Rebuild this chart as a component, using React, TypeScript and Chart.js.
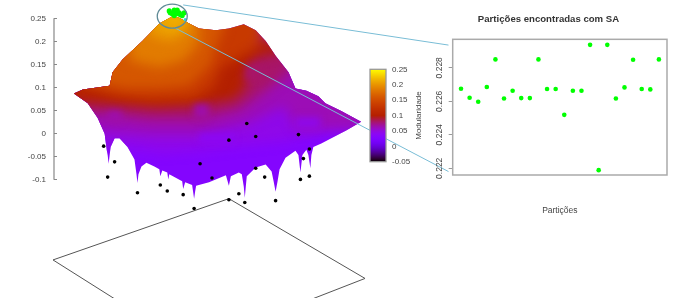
import React, { useEffect, useRef } from "react";
import { Chart, registerables } from "chart.js";

// ---- main 3D view: x = projected view position, y = modularity ----
const axisTicks = [-0.1, -0.05, 0, 0.05, 0.1, 0.15, 0.2, 0.25];
const silhouetteX = [74,83,110,113,123,143,160,173,180,190,200,217,230,245,257,267,277,290,297,308,320,327,343,363,348,323,315,313,312,310,308,304,302,300,297,287,281,279,277,275,273,267,257,248,247,246,245,243,240,232,230,227,210,197,196,195,194,193,186,184,183,170,169,168,163,161,160,155,147,142,139,138,137,135,128,120,115,111,110,109,108,107,105,98,88];
const silhouetteY = [.087,.0955,.104,.133,.161,.201,.239,.254,.251,.239,.228,.224,.228,.237,.224,.201,.169,.133,.098,.093,.081,.066,.049,.026,.007,-.021,-.029,-.046,-.075,-.046,-.035,-.046,-.084,-.046,-.037,-.052,-.077,-.103,-.126,-.103,-.082,-.067,-.073,-.092,-.115,-.139,-.115,-.088,-.084,-.092,-.113,-.09,-.105,-.113,-.126,-.141,-.126,-.111,-.105,-.12,-.103,-.088,-.099,-.084,-.08,-.092,-.077,-.071,-.063,-.071,-.088,-.107,-.088,-.056,-.029,-.01,-.01,-.029,-.046,-.065,-.046,-.035,0,.034,.066];
const surfaceBaseLevel = 0.03;

const bandLevels = [0.045, 0.062, 0.08, 0.1, 0.132, 0.16, 0.185, 0.205, 0.215, 0.065, 0.065, 0.045, 0.08, 0.04];
const bandXs = [
  [60,90,130,165,200,240,290,330,380,380,300,60],
  [60,100,150,200,250,285,300,340,380,380,300,60],
  [60,100,150,200,240,265,285,300,300,60],
  [60,110,160,200,235,248,245,255,280,295,60],
  [80,115,150,195,215,222,240,258,265,260,80],
  [90,125,160,190,212,218,225,225,90],
  [130,160,185,200,200,130],
  [150,172,188,192,150],
  [165,178,186,186,165],
  [108,122,122,108],
  [195,210,210,195],
  [297,322,322,297],
  [248,262,262,248],
  [200,235,235,200],
];
const bandYs = [
  [-.035,-.031,-.031,-.04,-.035,-.025,-.014,.007,.017,.133,.154,.133],
  [.005,.005,-.002,-.002,.024,.06,.007,.011,.011,.133,.133,.133],
  [.043,.045,.032,.032,.053,.091,.123,.144,.218,.218],
  [.07,.064,.057,.062,.074,.102,.129,.165,.176,.197,.218],
  [.102,.081,.072,.074,.102,.144,.165,.186,.218,.27,.27],
  [.115,.098,.098,.104,.15,.197,.228,.27,.27],
  [.159,.144,.159,.197,.27,.27],
  [.214,.201,.222,.27,.27],
  [.235,.23,.243,.27,.27],
  [.049,.049,.024,.024],
  [.064,.064,.034,.034],
  [.036,.036,.011,.011],
  [.15,.15,.117,.117],
  [0,0,-.021,-.021],
];

const localMinX = [104,115,108,138,161,168,184,195,201,213,230,230,240,246,257,257,266,277,300,302,305,311,311,248];
const localMinY = [-.027,-.061,-.094,-.128,-.111,-.124,-.132,-.162,-.065,-.096,-.014,-.143,-.13,-.149,-.075,-.006,-.094,-.145,-.002,-.099,-.054,-.033,-.092,.022];
const peakX = [170,175,173,177,175,180,183,185,178,171,181];
const peakY = [.266,.268,.26,.26,.256,.262,.256,.262,.268,.262,.258];
const peakTraceX = [186];
const peakTraceY = [.247];
const groundX = [53,230,367,191,53];
const groundY = [-.2735,-.1407,-.3136,-.461,-.2735];
const connectorUpperX = [184,451];
const connectorUpperY = [.279,.192];
const connectorLowerX = [175,451];
const connectorLowerY = [.23,-.082];

// ---- inset ----
const insetTitle = "Partições encontradas com SA";
const insetXLabel = "Partições";
const insetTicks = [0.222, 0.224, 0.226, 0.228];
const partitions = Array.from({ length: 24 }, (_, i) => i + 1);
const partitionModularity = [.22675,.22621,.22597,.22685,.2285,.22617,.22663,.22619,.22619,.2285,.22673,.22673,.22519,.22663,.22663,.22937,.22189,.22937,.22617,.22683,.22848,.22673,.22671,.2285];

// ---- colour bar ----
const colorMin = -0.05;
const colorMax = 0.25;
const colorTitle = "Modularidade";

const FONT = "'Liberation Sans', Arial, sans-serif";
const TEXT = "#444";

function palette(v: number) {
  const g = Math.min(1, Math.max(0, (v - colorMin) / (colorMax - colorMin)));
  const r = Math.sqrt(g);
  const gr = g * g * g;
  const b = Math.max(0, Math.sin(2 * Math.PI * g));
  return `rgb(${Math.round(r * 255)},${Math.round(gr * 255)},${Math.round(b * 255)})`;
}

const pts = (xs: number[], ys: number[]) => xs.map((x, i) => ({ x, y: ys[i] }));

// Registered before the built-ins so it wraps the Filler's painting of blended bands.
const bandBlend = {
  id: "bandBlend",
  beforeDatasetDraw(chart: any, args: any) {
    const ds = chart.data.datasets[args.index];
    if (!ds.blended) return;
    const outline = chart.getDatasetMeta(chart.data.datasets.findIndex((d: any) => d.isSurface)).data;
    const ctx = chart.ctx;
    ctx.save();
    ctx.beginPath();
    outline.forEach((p: any, i: number) => (i ? ctx.lineTo(p.x, p.y) : ctx.moveTo(p.x, p.y)));
    ctx.closePath();
    ctx.clip();
    ctx.filter = `blur(${ds.blended}px)`;
  },
  afterDatasetDraw(chart: any, args: any) {
    if (chart.data.datasets[args.index].blended) chart.ctx.restore();
  },
};
Chart.register(bandBlend);
Chart.register(...registerables);

const baseOpts = {
  responsive: false,
  animation: false,
  events: [],
  devicePixelRatio: 1,
};
const noTickMargin = (s: any) => { s.paddingTop = 0; s.paddingBottom = 0; };

export default function App() {
  const mainRef = useRef<HTMLCanvasElement>(null);
  const insetRef = useRef<HTMLCanvasElement>(null);
  const barRef = useRef<HTMLCanvasElement>(null);

  useEffect(() => {
    const line = (data: any[], color: string, width: number, order: number) => ({
      data, showLine: true, borderColor: color, borderWidth: width, pointRadius: 0, clip: false, order, tension: 0,
    });
    const main = new Chart(mainRef.current!, {
      type: "scatter",
      data: {
        datasets: [
          { ...line(pts(groundX, groundY), "#555", 1, 50) },
          {
            ...line(pts(silhouetteX, silhouetteY), "transparent", 0, 40),
            isSurface: true,
            fill: "shape",
            backgroundColor: palette(surfaceBaseLevel),
          },
          ...bandLevels.map((lvl, i) => ({
            ...line(pts(bandXs[i], bandYs[i]), "transparent", 0, 30 - i),
            blended: i < 9 ? 6 : 3.5,
            fill: "shape",
            backgroundColor: palette(lvl),
          })),
          { data: pts(localMinX, localMinY), pointRadius: 1.8, pointBackgroundColor: "#000", pointBorderWidth: 0, clip: false, order: 5 },
          { data: pts(peakTraceX, peakTraceY), pointRadius: 1.6, pointBackgroundColor: "#2fd8d8", pointBorderWidth: 0, clip: false, order: 4.5 },
          { data: pts(peakX, peakY), pointRadius: 2.6, pointBackgroundColor: "#00ff00", pointBorderWidth: 0, clip: false, order: 4 },
          { ...line(pts(connectorUpperX, connectorUpperY), "#79bdd6", 1, 3) },
          { ...line(pts(connectorLowerX, connectorLowerY), "#79bdd6", 1, 3) },
          { ...line([{ x: 54, y: axisTicks[0] }, { x: 54, y: axisTicks[axisTicks.length - 1] }], "#888", 1.2, 2) },
        ],
      },
      options: {
        ...baseOpts,
        layout: { padding: 0 },
        plugins: { legend: { display: false }, tooltip: { enabled: false } },
        scales: {
          x: { type: "linear", display: false, min: 54, max: 688 },
          y: {
            type: "linear",
            min: -0.3473,
            max: 0.281,
            border: { display: false },
            grid: { drawOnChartArea: false, color: "#888", tickLength: -3, lineWidth: 1 },
            afterBuildTicks: (s: any) => { s.ticks = axisTicks.map((value) => ({ value })); },
            afterFit: (s: any) => { s.width = 54; noTickMargin(s); },
            ticks: {
              autoSkip: false, padding: 11, color: TEXT, font: { family: FONT, size: 8 },
              callback: (v: any) => String(+(+v).toFixed(2)),
            },
          },
        },
      },
      plugins: [{
        id: "peakRing",
        afterDatasetsDraw(c: any) {
          const ctx = c.ctx;
          const x = c.scales.x.getPixelForValue(173);
          const y = c.scales.y.getPixelForValue(0.2547);
          ctx.save();
          ctx.strokeStyle = "#5f8a96";
          ctx.lineWidth = 1.3;
          ctx.beginPath();
          ctx.ellipse(x, y, 15, 12, 0, 0, Math.PI * 2);
          ctx.stroke();
          ctx.restore();
        },
      }],
    } as any);

    const inset = new Chart(insetRef.current!, {
      type: "scatter",
      data: {
        datasets: [{
          data: pts(partitions, partitionModularity),
          pointRadius: 2.3, pointBackgroundColor: "#00ff00", pointBorderWidth: 0,
        }],
      },
      options: {
        ...baseOpts,
        layout: { padding: { right: 46 } },
        plugins: {
          legend: { display: false }, tooltip: { enabled: false },
          title: {
            display: true, text: insetTitle, color: "#333",
            font: { family: FONT, size: 9.6, weight: "bold" },
            padding: { top: 14, bottom: 13.8 },
          },
        },
        scales: {
          x: {
            type: "linear", min: 0.035, max: 24.94,
            ticks: { display: false },
            grid: { display: false },
            border: { display: false },
            afterFit: (s: any) => { s.height = 41; },
            title: { display: true, text: insetXLabel, color: TEXT, font: { family: FONT, size: 8.5 }, padding: 0 },
          },
          y: {
            type: "linear", min: 0.2216, max: 0.2297,
            border: { display: false },
            grid: { drawOnChartArea: false, color: "#999", tickLength: 4 },
            afterBuildTicks: (s: any) => { s.ticks = insetTicks.map((value) => ({ value })); },
            afterFit: (s: any) => { s.width = 22.7; noTickMargin(s); },
            ticks: {
              autoSkip: false, minRotation: 90, maxRotation: 90, crossAlign: "center", padding: -2,
              color: TEXT, font: { family: FONT, size: 8.5 },
              callback: (v: any) => (+v).toFixed(3),
            },
          },
        },
      },
      plugins: [{
        id: "frame",
        afterDatasetsDraw(c: any) {
          const { left, top, width, height } = c.chartArea;
          c.ctx.save();
          c.ctx.strokeStyle = "#aaa";
          c.ctx.lineWidth = 1.5;
          c.ctx.strokeRect(left, top, width, height);
          c.ctx.restore();
        },
      }],
    } as any);

    const bar = new Chart(barRef.current!, {
      type: "bar",
      data: {
        labels: [colorTitle],
        datasets: [{
          data: [[colorMin, colorMax]],
          barPercentage: 1,
          categoryPercentage: 1,
          backgroundColor: (ctx: any) => {
            const { chartArea, scales } = ctx.chart;
            if (!chartArea) return "#000";
            const g = ctx.chart.ctx.createLinearGradient(0, scales.y.getPixelForValue(colorMin), 0, scales.y.getPixelForValue(colorMax));
            for (let i = 0; i <= 40; i++) g.addColorStop(i / 40, palette(colorMin + (i / 40) * (colorMax - colorMin)));
            return g;
          },
        }],
      },
      options: {
        ...baseOpts,
        layout: { padding: { top: 14.3, bottom: 13.3 } },
        plugins: { legend: { display: false }, tooltip: { enabled: false } },
        scales: {
          x: { display: false },
          y: {
            position: "right", min: colorMin, max: colorMax,
            border: { display: false },
            grid: { drawOnChartArea: false, color: "#222", tickLength: -3 },
            afterFit: (s: any) => { s.width = 44; noTickMargin(s); },
            ticks: {
              stepSize: 0.05, padding: 9, color: TEXT, font: { family: FONT, size: 8 },
              callback: (v: any) => String(+(+v).toFixed(2)),
            },
          },
          yLeft: {
            position: "left", min: colorMin, max: colorMax,
            border: { display: false },
            grid: { drawOnChartArea: false, color: "#222", tickLength: -3 },
            afterFit: (s: any) => { s.width = 10; noTickMargin(s); },
            ticks: { stepSize: 0.05, display: false },
          },
        },
      },
      plugins: [{
        id: "barFrame",
        afterDraw(c: any) {
          const { left, top, width, height, right } = c.chartArea;
          const ctx = c.ctx;
          ctx.save();
          ctx.strokeStyle = "#999";
          ctx.lineWidth = 1.3;
          ctx.strokeRect(left, top, width, height);
          ctx.translate(right + 33, (top + height / 2));
          ctx.rotate(-Math.PI / 2);
          ctx.fillStyle = TEXT;
          ctx.font = `8px ${FONT}`;
          ctx.textAlign = "center";
          ctx.textBaseline = "middle";
          ctx.fillText(colorTitle, 0, 0);
          ctx.restore();
        },
      }],
    } as any);

    return () => { main.destroy(); inset.destroy(); bar.destroy(); };
  }, []);

  const abs = (left: number, top: number): React.CSSProperties => ({ position: "absolute", left, top, display: "block" });
  return (
    <div style={{ position: "fixed", left: 0, top: 0, width: 688, height: 298, background: "#fff", overflow: "hidden", filter: "blur(0.35px)" }}>
      <canvas ref={mainRef} width={688} height={298} style={abs(0, 0)} />
      <canvas ref={barRef} width={70} height={120} style={abs(360, 55)} />
      <canvas ref={insetRef} width={283} height={216} style={abs(430, 0)} />
    </div>
  );
}
